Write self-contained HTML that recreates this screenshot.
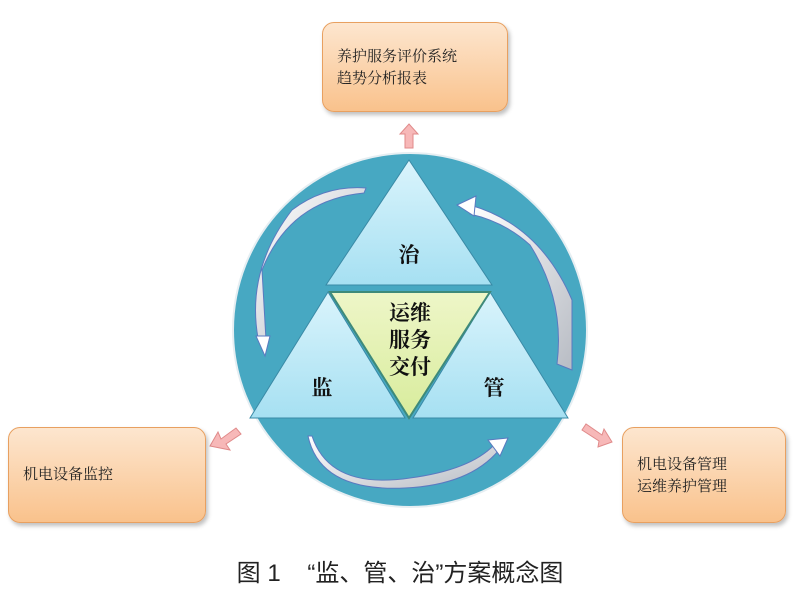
<!DOCTYPE html>
<html><head><meta charset="utf-8"><style>
body{margin:0;background:#fff;width:800px;height:596px;overflow:hidden;font-family:"Noto Serif CJK SC",serif}
.box{position:absolute;border:1px solid #e8a060;border-radius:12px;background:linear-gradient(#fde6cf,#f9c28c);box-shadow:2px 3px 4px rgba(0,0,0,.25);font-size:15px;color:#222;line-height:22px;font-family:"Noto Serif CJK SC",serif}
</style></head><body>
<svg width="800" height="596" style="position:absolute;left:0;top:0">
<defs>
<linearGradient id="tri" x1="0" y1="0" x2="0" y2="1"><stop offset="0" stop-color="#daf4fc"/><stop offset="1" stop-color="#a6e0f2"/></linearGradient>
<linearGradient id="cen" x1="0" y1="0" x2="0" y2="1"><stop offset="0" stop-color="#eef6c8"/><stop offset="1" stop-color="#d8ec9c"/></linearGradient>
<linearGradient id="arr" x1="0" y1="0" x2="1" y2="1"><stop offset="0" stop-color="#fff"/><stop offset="1" stop-color="#b8bcc4"/></linearGradient>
</defs>
<circle cx="410" cy="330" r="177" fill="#47a8c2" stroke="#e6eef2" stroke-width="2"/>
<polygon points="409,160 492,285 326,285" fill="url(#tri)" stroke="#3a8aa6" stroke-width="1"/>
<polygon points="328,292 250,418 405,418" fill="url(#tri)" stroke="#3a8aa6" stroke-width="1"/>
<polygon points="490,292 568,418 413,418" fill="url(#tri)" stroke="#3a8aa6" stroke-width="1"/>
<polygon points="330,292 490,292 409,418" fill="url(#cen)" stroke="#3e8a7a" stroke-width="2"/>
<path d="M364,193 Q290,200 262,270 L266,340 L258,338 Q246,270 292,210 Q325,185 366,188 Z" fill="url(#arr)" stroke="#5a7ac0" stroke-width="1"/>
<polygon points="256,336 270,336 265,356" fill="#fff" stroke="#5a7ac0"/>
<path d="M470,205 Q540,225 572,300 L572,370 L557,364 Q565,300 530,245 Q505,222 470,214 Z" fill="url(#arr)" stroke="#5a7ac0" stroke-width="1"/>
<polygon points="457,205 476,196 474,216" fill="#fff" stroke="#5a7ac0"/>
<path d="M312,436 Q330,490 410,478 Q470,470 494,445 L499,450 Q470,485 405,488 Q320,492 308,436 Z" fill="url(#arr)" stroke="#5a7ac0" stroke-width="1"/>
<polygon points="488,440 508,438 500,456" fill="#fff" stroke="#5a7ac0"/>
<polygon points="409,124 418,134 413,134 413,148 405,148 405,134 400,134" fill="#f7b8b8" stroke="#e08a8a"/>
<polygon points="210,446 218,432 221,439 236,428 241,434 226,444 230,450" fill="#f7b8b8" stroke="#e08a8a"/>
<polygon points="612,442 598,447 599,441 582,430 586,424 602,435 604,429" fill="#f7b8b8" stroke="#e08a8a"/>
<g font-size="21" fill="#111" text-anchor="middle" font-weight="bold" font-family="Noto Serif CJK SC, serif">
<text x="409" y="262">治</text>
<text x="322" y="395">监</text>
<text x="494" y="395">管</text>
<text x="410" y="320">运维</text>
<text x="410" y="347">服务</text>
<text x="410" y="374">交付</text>
</g>
</svg>
<div class="box" style="left:322px;top:22px;width:184px;height:88px"><div style="padding:22px 0 0 14px">养护服务评价系统<br>趋势分析报表</div></div>
<div class="box" style="left:8px;top:427px;width:196px;height:94px"><div style="padding:35px 0 0 14px">机电设备监控</div></div>
<div class="box" style="left:622px;top:427px;width:162px;height:94px"><div style="padding:25px 0 0 14px">机电设备管理<br>运维养护管理</div></div>
<div style="position:absolute;left:0;top:553px;width:800px;text-align:center;font-family:'Liberation Sans','Noto Sans CJK SC',sans-serif;font-size:24px;color:#222">图 1&nbsp;&nbsp;&nbsp;&nbsp;“监、管、治”方案概念图</div>
</body></html>
